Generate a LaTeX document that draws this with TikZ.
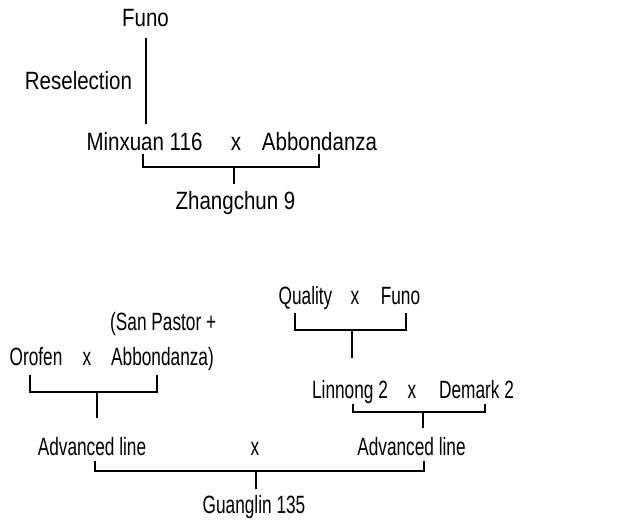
\documentclass[tikz,border=0pt]{standalone}
\usepackage{fontspec}
\setmainfont{Liberation Sans}
\newfontfamily\topfont{Liberation Sans}[FakeStretch=0.82]
\newfontfamily\botfont{Liberation Sans}[FakeStretch=0.69]
\begin{document}
\begin{tikzpicture}[x=1pt,y=-1pt,
  lbl/.style={inner sep=0pt,anchor=base,font=\topfont\fontsize{25}{28}\selectfont},
  blbl/.style={inner sep=0pt,anchor=base,font=\botfont\fontsize{25}{28}\selectfont},
  link/.style={line width=2pt}]
\useasboundingbox (0,0) rectangle (620,521);
% ---- top part ----
\node[lbl] (funo1) at (145.5,27) {Funo};
\node[lbl] (resel) at (78.5,90) {Reselection};
\node[lbl] (min) at (144.5,151) {Minxuan 116};
\node[lbl] (x1) at (236,151) {x};
\node[lbl] (abb1) at (319.5,151) {Abbondanza};
\node[lbl] (zh) at (235.5,209) {Zhangchun 9};
\coordinate (f1a) at (146,38);
\coordinate (f1b) at (146,124);
\draw[link] (f1a) -- (f1b);
\coordinate (t1l) at (143,154);
\coordinate (t1r) at (319,154);
\coordinate (t1m) at (234,167);
\coordinate (t1s) at (234,184);
\draw[link] (t1l) |- (t1m) -| (t1r);
\draw[link] (t1m) -- (t1s);
% ---- bottom part ----
\node[blbl] (qual) at (305.5,304) {Quality};
\node[blbl] (x2) at (355,304) {x};
\node[blbl] (funo2) at (400.5,304) {Funo};
\node[blbl,anchor=base west] (sp) at (110,330) {(San Pastor +};
\node[blbl] (oro) at (36,365) {Orofen};
\node[blbl] (x3) at (87,365) {x};
\node[blbl,anchor=base west] (abb2) at (111,365) {Abbondanza)};
\node[blbl] (lin) at (350,398) {Linnong 2};
\node[blbl] (x4) at (412,398) {x};
\node[blbl] (dem) at (476.5,398) {Demark 2};
\node[blbl] (adv1) at (92,455) {Advanced line};
\node[blbl] (x5) at (255,455) {x};
\node[blbl] (adv2) at (411.5,455) {Advanced line};
\node[blbl] (gl) at (254,513) {Guanglin 135};
% Quality x Funo
\coordinate (q1) at (295,313);
\coordinate (q2) at (406,313);
\coordinate (qm) at (352,330);
\coordinate (qs) at (352,358);
\draw[link] (q1) |- (qm) -| (q2);
\draw[link] (qm) -- (qs);
% Orofen x (San Pastor + Abbondanza)
\coordinate (o1) at (30,375);
\coordinate (o2) at (157,375);
\coordinate (om) at (97,392);
\coordinate (os) at (97,418);
\draw[link] (o1) |- (om) -| (o2);
\draw[link] (om) -- (os);
% Linnong 2 x Demark 2
\coordinate (l1) at (353,404);
\coordinate (l2) at (485,404);
\coordinate (lm) at (423,412);
\coordinate (ls) at (423,428);
\draw[link] (l1) |- (lm) -| (l2);
\draw[link] (lm) -- (ls);
% Advanced line x Advanced line
\coordinate (a1) at (95,461);
\coordinate (a2) at (424,461);
\coordinate (am) at (256,471);
\coordinate (as) at (256,489);
\draw[link] (a1) |- (am) -| (a2);
\draw[link] (am) -- (as);
\end{tikzpicture}
\end{document}
